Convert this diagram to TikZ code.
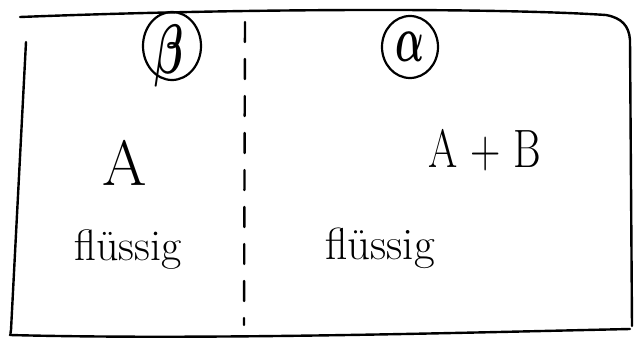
\documentclass[tikz,border=0pt]{standalone}
\usepackage{amsmath, amssymb}
\usepackage{graphicx}
\usepackage{tikz}
\usetikzlibrary{calc,shapes.geometric}

\begin{document}
\begin{tikzpicture}[x=1pt, y=-1pt, line cap=round, line join=round]
        % Parameters
        \def\penW{2.4pt}
        \def\sepX{245}

        \tikzset{
            pen/.style={line width=\penW, black},
            ring/.style={draw, ellipse, line width=2.2pt, inner sep=0pt},
            handtext/.style={font=\fontsize{44}{44}\selectfont, inner sep=0pt}
        }

        \useasboundingbox (0,0) rectangle (635,343);

        % Outer Box
        \coordinate (TL) at (20,17);
        \coordinate (TR) at (606,15);
        \coordinate (RT) at (630,40);
        \coordinate (RB) at (632,326);
        \coordinate (BR) at (630,329);
        \coordinate (BL) at (10,335);
        \coordinate (LB) at (11,330);
        \coordinate (LT) at (26,42);

        \draw[pen] (TL) .. controls (250,8) and (500,8) .. (TR)
            .. controls (622,18) and (629,26) .. (RT) -- (RB);
        \draw[pen] (LT) -- (LB) .. controls (10,334) and (11,336) .. (BL)
            .. controls (200,340) and (450,333) .. (BR);

        % Separating Line
        \coordinate (SepTop) at (\sepX,22);
        \coordinate (SepBot) at (244,325);
        \draw[pen, dash pattern=on 20pt off 17pt] (SepTop) -- (SepBot);

        % Phase Beta (left)
        \node[ring, minimum width=58, minimum height=68] (betaRing) at (172,46) {};
        \node[inner sep=0pt] (beta) at ($(betaRing.center)+(-3,10)$)
            {\scalebox{4.2}[7]{$\boldsymbol{\beta}$}};
        \node[handtext, font=\fontsize{64}{64}\selectfont] (A) at (125,163) {A};
        \node[handtext] (flL) at (128,250) {flüssig};

        % Phase Alpha (right)
        \node[ring, minimum width=56, minimum height=62] (alphaRing) at (410,47) {};
        \node[inner sep=0pt] (alpha) at (alphaRing.center)
            {\scalebox{3.8}[6.6]{$\boldsymbol{\alpha}$}};
        \node[handtext, font=\fontsize{54}{54}\selectfont, xscale=0.78] (AB) at (485,150) {A + B};
        \node[handtext, font=\fontsize{45}{45}\selectfont] (flR) at (380,248) {flüssig};
\end{tikzpicture}
\end{document}
